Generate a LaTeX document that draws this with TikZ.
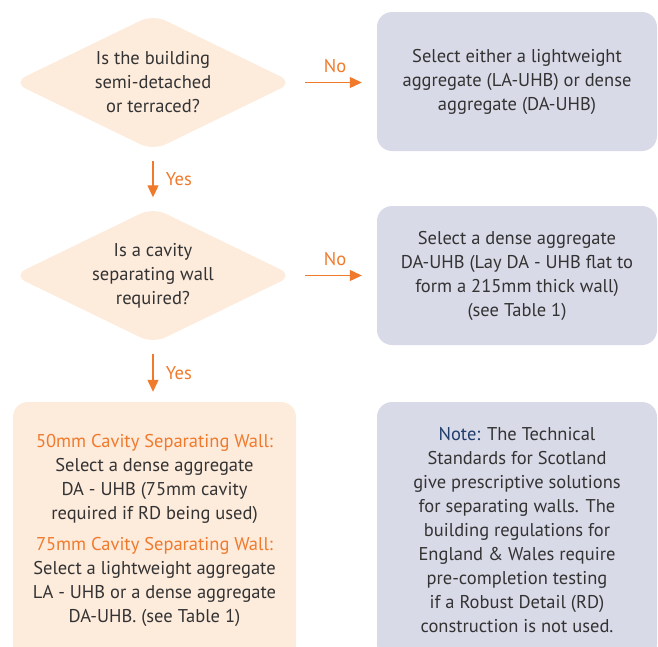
\documentclass[tikz,border=0pt]{standalone}
\usepackage{fontspec}
\setmainfont{PT Sans}
\usetikzlibrary{shapes.geometric}
\usetikzlibrary{arrows.meta}

\definecolor{peach}{HTML}{FDEBDC}
\definecolor{lavender}{HTML}{D9DAE8}
\definecolor{flowOrange}{HTML}{F07A2C}
\definecolor{noteBlue}{HTML}{1F3D6D}
\definecolor{bodyText}{HTML}{333333}

\tikzset{
  decision/.style={diamond, fill=peach, rounded corners=14pt, shape aspect=2.07,
    minimum width=280pt, minimum height=136pt, inner sep=0pt, align=center},
  outcome/.style={rectangle, fill=lavender, rounded corners=15pt,
    minimum width=280pt, minimum height=139pt, align=center},
  flowarrow/.style={draw=flowOrange, line width=1.2pt, -{Triangle[length=12pt, width=11pt]}},
  answer/.style={text=flowOrange},
}

\begin{document}
\begin{tikzpicture}[x=1pt, y=-1pt, font=\fontsize{18.5}{24}\selectfont, text=bodyText]

  \useasboundingbox (0, 0) rectangle (658, 646);

  % questions
  \node[decision] (semi) at (153, 82.5) {Is the building\\semi-detached\\or terraced?};
  \node[decision] (cavity) at (153, 275.5) {Is a cavity\\separating wall\\required?};

  % answers
  \node[outcome] (either) at (517, 81.5)
    {Select either a lightweight\\aggregate (LA-UHB) or dense\\aggregate (DA-UHB)};
  \node[outcome] (dense) at (517, 275.5)
    {Select a dense aggregate\\DA-UHB (Lay DA - UHB flat to\\form a 215mm thick wall)\\(see Table 1)};
  \node[outcome, fill=peach, minimum width=283pt, minimum height=257pt] (cavitywall) at (154.5, 530.5)
    {\textcolor{flowOrange}{50mm Cavity Separating Wall:}\\Select a dense aggregate\\DA - UHB (75mm cavity\\required if RD being used)\\[7pt]
     \textcolor{flowOrange}{75mm Cavity Separating Wall:}\\Select a lightweight aggregate\\LA - UHB or a dense aggregate\\DA-UHB. (see Table 1)};
  \node[outcome, minimum height=257pt] (note) at (517, 530.5)
    {\textcolor{noteBlue}{Note:} The Technical\\Standards for Scotland\\give prescriptive solutions\\for separating walls. The\\building regulations for\\England \& Wales require\\pre-completion testing\\if a Robust Detail (RD)\\construction is not used.};

  % connectors
  \draw[flowarrow, shorten <=12pt, shorten >=15pt] (semi.east) -- node[answer, above=6pt] {No} (semi.east -| either.west);
  \draw[flowarrow, shorten <=12pt, shorten >=15pt] (cavity.east) -- node[answer, above=6pt] {No} (cavity.east -| dense.west);
  \draw[flowarrow, shorten <=10pt, shorten >=10pt] (semi.south) -- node[answer, right=9pt] {Yes} (cavity.north);
  \draw[flowarrow, shorten <=10pt, shorten >=10pt] (cavity.south) -- node[answer, right=9pt] {Yes} (cavity.south |- cavitywall.north);

\end{tikzpicture}
\end{document}
